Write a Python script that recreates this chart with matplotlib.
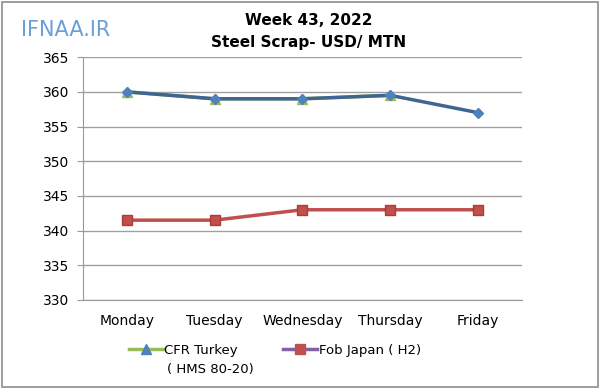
import matplotlib.pyplot as plt
from matplotlib.lines import Line2D

# data
days = ["Monday", "Tuesday", "Wednesday", "Thursday", "Friday"]
cfr_turkey = [360, 359, 359, 359.5, 357]
fob_japan = [341.5, 341.5, 343, 343, 343]
y_ticks = [330, 335, 340, 345, 350, 355, 360, 365]

fig = plt.figure(figsize=(6, 3.89), dpi=100)
fig.patch.set_facecolor("white")

# outer border
fig.add_artist(plt.Rectangle((0.003, 0.004), 0.994, 0.992, transform=fig.transFigure,
                             fill=False, edgecolor="#8c8c8c", linewidth=1.2))

ax = fig.add_axes([0.138, 0.229, 0.732, 0.624])
x = list(range(len(days)))

ax.plot(x, fob_japan, color="#c0504d", linewidth=2.5, marker="s", markersize=7.5,
        markerfacecolor="#c0504d", markeredgecolor="#b03a37", zorder=3)
ax.plot(x[:4], cfr_turkey[:4], color="#9bbb59", linewidth=2.5, marker="^", markersize=7,
        markerfacecolor="#9bbb59", zorder=3)
ax.plot(x, cfr_turkey, color="#3f6592", linewidth=2.5, marker="D", markersize=5.5,
        markerfacecolor="#4f81bd", markeredgecolor="#4f81bd", zorder=4)

ax.set_xlim(-0.5, 4.5)
ax.set_ylim(330, 365)
ax.set_yticks(y_ticks)
ax.set_xticks(x)
ax.set_xticklabels(days)
ax.yaxis.grid(True, color="#a0a0a0", linewidth=1)
ax.set_axisbelow(True)
for s in ["top", "right"]:
    ax.spines[s].set_visible(False)
ax.spines["left"].set_color("#999999")
ax.spines["bottom"].set_color("#999999")
ax.tick_params(axis="y", length=4, color="#999999", labelsize=10, pad=6)
ax.tick_params(axis="x", length=0, labelsize=10, pad=10)

# titles and logo
fig.text(0.515, 0.947, "Week 43, 2022", ha="center", va="center", fontsize=11, fontweight="bold")
fig.text(0.515, 0.89, "Steel Scrap- USD/ MTN", ha="center", va="center", fontsize=11, fontweight="bold")
fig.text(0.035, 0.922, "IFNAA.IR", ha="left", va="center", fontsize=15, color="#6a9fd8")

# legend
h1 = Line2D([], [], color="#9bbb59", linewidth=2.5, marker="^", markersize=7,
            markerfacecolor="#4f81bd", markeredgecolor="#4f81bd")
h2 = Line2D([], [], color="#8064a2", linewidth=2.5, marker="s", markersize=7,
            markerfacecolor="#c0504d", markeredgecolor="#c0504d")
fig.legend([h1, h2], ["CFR Turkey", "Fob Japan ( H2)"], loc="center left",
           bbox_to_anchor=(0.195, 0.1), ncol=2, frameon=False, fontsize=9.5,
           handlelength=2.6, columnspacing=3.4, handletextpad=0.1)
fig.text(0.278, 0.05, "( HMS 80-20)", ha="left", va="center", fontsize=9.5)

fig.savefig("out.png", dpi=100)
